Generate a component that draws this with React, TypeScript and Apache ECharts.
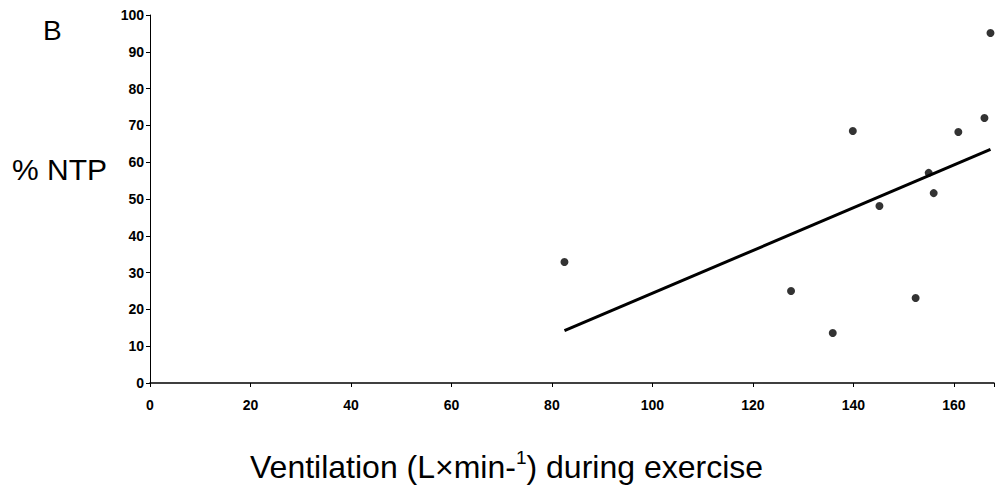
import React, { useEffect, useRef } from "react";
import * as echarts from "echarts";

const ventilation = [82.5, 127.6, 135.9, 139.9, 145.2, 152.4, 155.0, 156.0, 160.9, 166.1, 167.3];
const ntpPercent = [32.9, 25.0, 13.6, 68.5, 48.1, 23.1, 57.1, 51.6, 68.2, 72.0, 95.1];
const fitX = [82.5, 167.3];
const fitY = [14.2, 63.5];
const xTicks = [0, 20, 40, 60, 80, 100, 120, 140, 160];

const FONT = "Arial, 'Liberation Sans', Helvetica, sans-serif";

export default function App() {
  const ref = useRef<HTMLDivElement>(null);
  useEffect(() => {
    if (!ref.current) return;
    const chart = echarts.init(ref.current, null, { renderer: "svg" });
    chart.setOption({
      animation: false,
      backgroundColor: "#ffffff",
      grid: { left: 150, top: 15, right: 0, bottom: 110, containLabel: false },
      xAxis: {
        type: "value",
        min: 0,
        max: 168,
        interval: 20,
        axisLine: { show: true, lineStyle: { color: "#000", width: 1.5 } },
        axisTick: { show: true, length: 4, lineStyle: { color: "#000" } },
        splitLine: { show: false },
        axisLabel: {
          margin: 15,
          color: "#000",
          fontSize: 14,
          fontWeight: "bold",
          fontFamily: FONT,
          formatter: (v: number) => (xTicks.includes(v) ? String(v) : ""),
        },
      },
      yAxis: {
        type: "value",
        min: 0,
        max: 100,
        interval: 10,
        axisLine: { show: true, lineStyle: { color: "#000", width: 1 } },
        axisTick: { show: true, length: 4, lineStyle: { color: "#000" } },
        splitLine: { show: false },
        axisLabel: {
          margin: 6,
          color: "#000",
          fontSize: 14,
          fontWeight: "bold",
          fontFamily: FONT,
        },
      },
      series: [
        {
          type: "line",
          data: fitX.map((x, i) => [x, fitY[i]]),
          symbol: "none",
          lineStyle: { color: "#000", width: 3 },
          z: 2,
        },
        {
          type: "scatter",
          data: ventilation.map((x, i) => [x, ntpPercent[i]]),
          symbol: "circle",
          symbolSize: 8,
          itemStyle: { color: "#000" },
          z: 3,
        },
      ],
      graphic: [
        {
          type: "text",
          left: 43,
          top: 16,
          style: { text: "B", fontSize: 28, fontFamily: FONT, fill: "#000" },
        },
        {
          type: "text",
          left: 12,
          top: 154,
          style: { text: "% NTP", fontSize: 30, fontFamily: FONT, fill: "#000" },
        },
        {
          type: "text",
          left: 250,
          top: 448,
          style: {
            text: "Ventilation (L×min-{sup|1}) during exercise",
            fontSize: 32,
            fontFamily: FONT,
            fill: "#000",
            rich: {
              sup: { fontSize: 19, fontFamily: FONT, fill: "#000", verticalAlign: "top", lineHeight: 37 },
            },
          },
        },
      ],
    });
    return () => chart.dispose();
  }, []);
  return (
    <div
      ref={ref}
      style={{ position: "fixed", left: 0, top: 0, width: 997, height: 493 }}
    />
  );
}
